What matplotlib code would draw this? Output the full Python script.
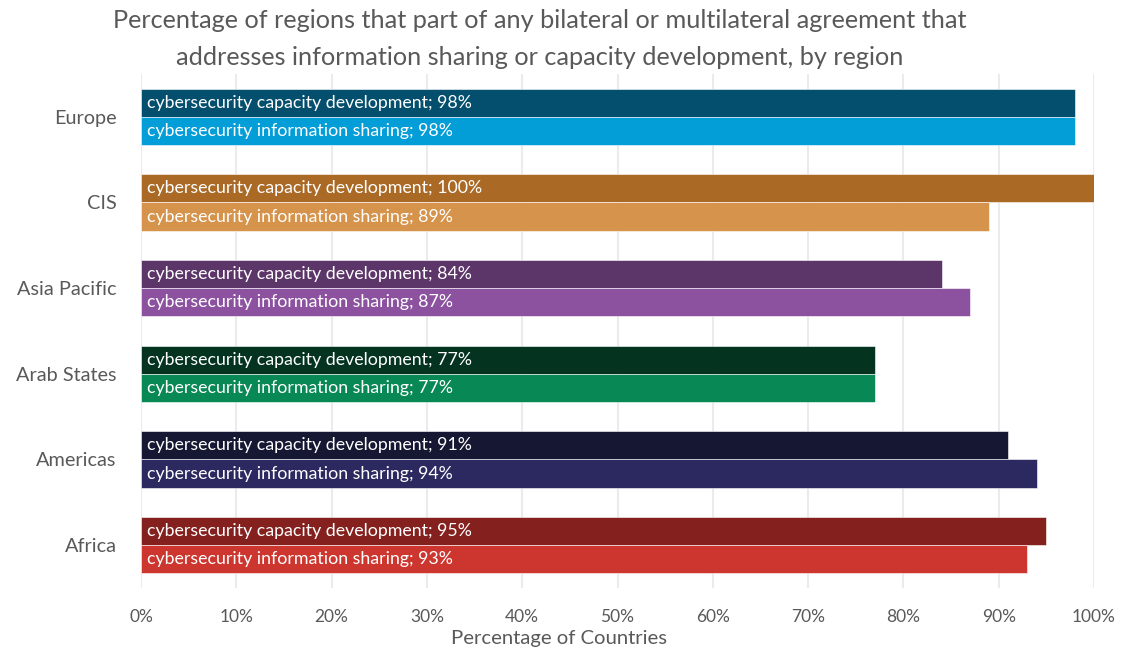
import matplotlib
matplotlib.use("Agg")
import matplotlib.pyplot as plt
import numpy as np

plt.rcParams['font.family'] = ['Lato', 'DejaVu Sans']

regions = ["Europe", "CIS", "Asia Pacific", "Arab States", "Americas", "Africa"]
capacity_dev = [98, 100, 84, 77, 91, 95]
info_sharing = [98, 89, 87, 77, 94, 93]
capacity_colors = ["#034f6d", "#aa6a26", "#5c3569", "#043320", "#161733", "#84211e"]
sharing_colors = ["#039dd8", "#d6934b", "#8c52a0", "#078854", "#2c2860", "#cd352f"]
x_ticks = [0, 10, 20, 30, 40, 50, 60, 70, 80, 90, 100]

title_lines = ["Percentage of regions that part of any bilateral or multilateral agreement that",
               "addresses information sharing or capacity development, by region"]

grey = "#595959"

fig = plt.figure(figsize=(11.21, 6.5), dpi=100)
ax = fig.add_axes([0.1258, 0.0954, 0.8501, 0.7908])

h = 0.33
y = np.arange(len(regions))
ax.barh(y - h / 2, capacity_dev, height=h, color=capacity_colors, zorder=2,
        edgecolor="white", linewidth=0.4)
ax.barh(y + h / 2, info_sharing, height=h, color=sharing_colors, zorder=2,
        edgecolor="white", linewidth=0.4)

for i in range(len(regions)):
    ax.text(0.6, y[i] - h / 2, f"cybersecurity capacity development; {capacity_dev[i]}%",
            color="white", fontsize=12.8, va="center", ha="left", zorder=3)
    ax.text(0.6, y[i] + h / 2, f"cybersecurity information sharing; {info_sharing[i]}%",
            color="white", fontsize=12.8, va="center", ha="left", zorder=3)

ax.set_xlim(0, 100)
ax.set_ylim(len(regions) - 0.5, -0.5)
ax.set_yticks(y)
ax.set_yticklabels(regions, fontsize=14.3, color=grey)
ax.set_xticks(x_ticks)
ax.set_xticklabels([f"{t}%" for t in x_ticks], fontsize=12.5, color=grey)
ax.tick_params(axis="both", length=0)
ax.tick_params(axis="y", pad=17.5)
ax.tick_params(axis="x", pad=15)
ax.grid(axis="x", color="#ebebeb", linewidth=1.5, zorder=0)
ax.set_axisbelow(True)
for s in ax.spines.values():
    s.set_visible(False)

fig.text(0.4986, 0.018, "Percentage of Countries", ha="center", va="center",
         fontsize=14.6, color=grey)
fig.text(0.4817, 0.968, title_lines[0], ha="center", va="center", fontsize=18.2, color=grey)
fig.text(0.4817, 0.911, title_lines[1], ha="center", va="center", fontsize=18.2, color=grey)

fig.savefig("out.png", dpi=100, facecolor="white")
